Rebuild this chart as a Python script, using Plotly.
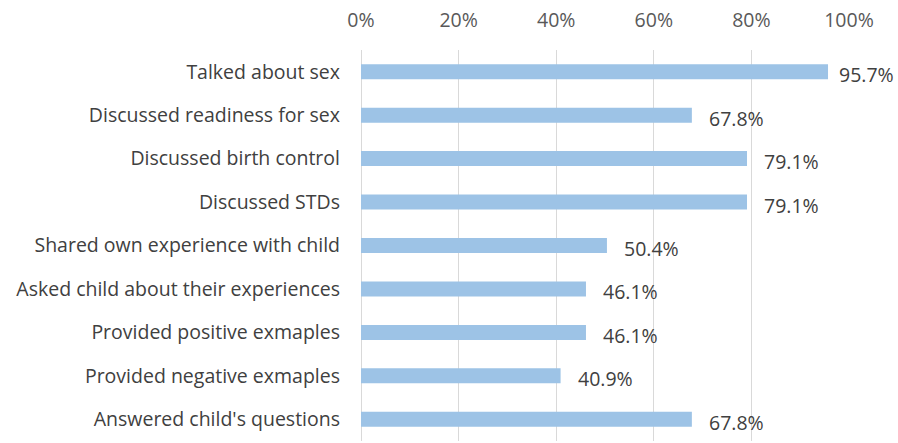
import plotly.graph_objects as go

# Parent-child communication items and share of parents reporting each (%)
items = [
    "Talked about sex",
    "Discussed readiness for sex",
    "Discussed birth control",
    "Discussed STDs",
    "Shared own experience with child",
    "Asked child about their experiences",
    "Provided positive exmaples",
    "Provided negative exmaples",
    "Answered child's questions",
]
shares = [95.7, 67.8, 79.1, 79.1, 50.4, 46.1, 46.1, 40.9, 67.8]
tick_values = [0, 20, 40, 60, 80, 100]
tick_labels = [f"{t}%" for t in tick_values]

FONT = "Open Sans"
SIZE = 19.5
TEXT_COLOR = "#404040"

fig = go.Figure(
    go.Bar(
        x=shares,
        y=items,
        orientation="h",
        width=0.345,
        marker=dict(color="#9DC3E6", line=dict(width=0)),
        hoverinfo="skip",
    )
)

# Value labels just past each bar end; labels near the right edge are
# nudged closer so they stay inside the figure.
for item, v in zip(items, shares):
    fig.add_annotation(
        x=v, y=item, text=f"{v:.1f}%", showarrow=False,
        xanchor="left", yanchor="middle",
        xshift=9 if v > 90 else 15, yshift=-3,
        font=dict(family=FONT, size=SIZE, color=TEXT_COLOR),
    )

fig.update_layout(
    width=898,
    height=443,
    margin=dict(l=361, r=49, t=50, b=2),
    paper_bgcolor="white",
    plot_bgcolor="white",
    showlegend=False,
    font=dict(family=FONT, size=SIZE, color=TEXT_COLOR),
)

fig.update_xaxes(
    side="top",
    range=[0, 100],
    tickvals=tick_values,
    ticktext=tick_labels,
    showgrid=True,
    gridcolor="#D9D9D9",
    gridwidth=1.3,
    zeroline=True,
    zerolinecolor="#D9D9D9",
    zerolinewidth=1.3,
    showline=False,
    ticks="",
    ticklabelstandoff=18,
    tickfont=dict(family=FONT, size=SIZE, color="#595959"),
    fixedrange=True,
)

fig.update_yaxes(
    categoryorder="array",
    categoryarray=items,
    autorange="reversed",
    showgrid=False,
    zeroline=False,
    showline=False,
    ticks="",
    ticklabelstandoff=20,
    tickfont=dict(family=FONT, size=SIZE, color=TEXT_COLOR),
    fixedrange=True,
)

fig.write_html("out.html")
